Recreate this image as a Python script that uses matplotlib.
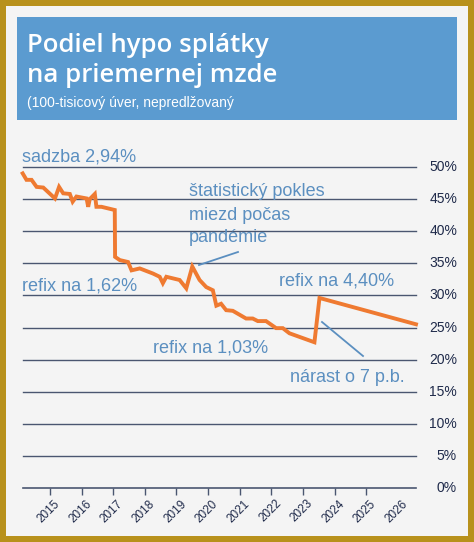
import matplotlib
matplotlib.use("Agg")
import matplotlib.pyplot as plt
from matplotlib.patches import Rectangle
import matplotlib.transforms as mtransforms

years = [2014.14, 2014.26, 2014.42, 2014.58, 2014.79, 2015.16, 2015.29, 2015.42, 2015.63, 2015.72,
         2015.84, 2016.16, 2016.21, 2016.26, 2016.42, 2016.47, 2016.63, 2017.05, 2017.06, 2017.21,
         2017.47, 2017.58, 2017.84, 2018.26, 2018.47, 2018.57, 2018.68, 2019.10, 2019.31, 2019.50,
         2019.73, 2019.94, 2020.15, 2020.26, 2020.41, 2020.57, 2020.78, 2020.99, 2021.20, 2021.41,
         2021.57, 2021.83, 2022.15, 2022.36, 2022.57, 2023.36, 2023.52, 2026.57]
share = [49.0, 48.0, 48.0, 46.9, 46.8, 45.1, 46.9, 45.9, 45.8, 44.6,
         45.4, 45.1, 43.8, 45.0, 45.8, 43.8, 43.8, 43.3, 36.0, 35.5,
         35.2, 33.9, 34.2, 33.4, 32.9, 31.9, 32.9, 32.4, 31.1, 34.5,
         32.4, 31.3, 30.8, 28.4, 28.7, 27.7, 27.6, 27.0, 26.4, 26.4,
         26.0, 26.0, 24.9, 24.9, 24.1, 22.7, 29.6, 25.5]
tick_years = list(range(2015, 2027))
y_ticks = list(range(0, 55, 5))

W, H = 474, 542
fig = plt.figure(figsize=(W/100, H/100), dpi=100)
fig.patch.set_facecolor("#b8911c")
fig.add_artist(Rectangle((6/W, 6/H), (W-12)/W, (H-12)/H, transform=fig.transFigure,
                         facecolor="#f4f4f4", edgecolor="none", zorder=0))
fig.add_artist(Rectangle((17/W, 1-120/H), (457-17)/W, (120-17)/H, transform=fig.transFigure,
                         facecolor="#5b9bd0", edgecolor="none", zorder=1))
FONT = "Liberation Sans"
fig.text(27/W, 1-45/H, "Podiel hypo splátky", color="white", fontsize=18.5, family="Open Sans",
         weight="semibold", va="center")
fig.text(27/W, 1-75/H, "na priemernej mzde", color="white", fontsize=18.5, family="Open Sans",
         weight="semibold", va="center")
fig.text(27/W, 1-103/H, "(100-tisicový úver, nepredlžovaný", color="white", fontsize=10, family=FONT, va="center")

ax = fig.add_axes([23/W, 54/H, (416-23)/W, (488-167)/H])
ax.set_facecolor("none")
ax.set_xlim(2014.15, 2026.57)
ax.set_ylim(0, 50)
for s in ["top", "right", "left"]:
    ax.spines[s].set_visible(False)
ax.spines["bottom"].set_color("#4a5670")
ax.spines["bottom"].set_linewidth(1.2)
for v in y_ticks[1:]:
    ax.axhline(v, color="#4a5670", lw=1, zorder=1, clip_on=False)
ax.set_yticks([])
ax.set_xticks(tick_years[:-1])
ax.set_xticklabels([])
ax.tick_params(axis="x", length=5, color="#4a5670", width=1)
for yr in tick_years:
    ax.text(yr + 0.12, -1.5, str(yr), rotation=45, ha="right", va="top", rotation_mode="anchor",
            fontsize=8.5, color="#1f2a4a", family=FONT)
tr = mtransforms.blended_transform_factory(fig.transFigure, ax.transData)
for v in y_ticks:
    ax.text(457/W, v, f"{v}%", transform=tr, ha="right", va="center", fontsize=10,
            color="#1f2a4a", family=FONT)

ax.plot(years, share, color="#ef7a31", lw=2.8, zorder=3, clip_on=False, solid_joinstyle="miter")

c = "#5b8fc0"
def ft(x, y, s):
    fig.text(x/W, 1-y/H, s, color=c, fontsize=13, family=FONT, va="center")
ft(22, 157, "sadzba 2,94%")
ft(189, 192, "štatistický pokles")
ft(189, 215, "miezd počas")
ft(189, 238, "pandémie")
ft(22, 286, "refix na 1,62%")
ft(279, 281, "refix na 4,40%")
ft(153, 348, "refix na 1,03%")
ft(290, 378, "nárast o 7 p.b.")
fig.add_artist(plt.Line2D([199/W, 238/W], [1-265/H, 1-252/H], color=c, lw=1.3))
fig.add_artist(plt.Line2D([322/W, 363/W], [1-322/H, 1-356/H], color=c, lw=1.3))

fig.savefig("out.png", dpi=100, facecolor=fig.get_facecolor())
